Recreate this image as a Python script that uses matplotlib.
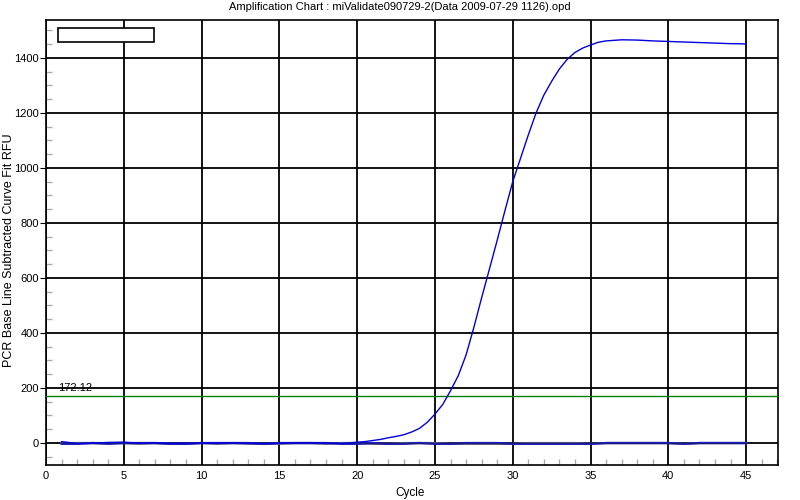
import matplotlib
matplotlib.use("Agg")
import matplotlib.pyplot as plt
from matplotlib.ticker import MultipleLocator
from matplotlib.patches import Rectangle

plt.rcParams['font.family'] = ['Liberation Sans', 'DejaVu Sans']

title = "Amplification Chart : miValidate090729-2(Data 2009-07-29 1126).opd"
xlabel = "Cycle"
ylabel = "PCR Base Line Subtracted Curve Fit RFU"
threshold = 172.12
threshold_label = "172.12"

cycles = list(range(1, 46))

main_cycles = [1, 2, 3, 4, 5, 6, 7, 8, 9, 10, 11, 12, 13, 14, 15, 16, 17, 18, 19,
               20, 20.5, 21, 21.5, 22, 22.5, 23, 23.5, 24, 24.5, 25, 25.5, 26, 26.5,
               27, 27.5, 28, 28.5, 29, 29.5, 30, 30.5, 31, 31.5, 32, 32.5, 33, 33.5,
               34, 34.5, 35, 35.5, 36, 37, 38, 39, 40, 41, 42, 43, 44, 45]
main_rfu = [5, -2, -1, 2, 3, -1, 0, -1, -1, 0, -1, 0, -1, -2, -1, 0, 0, 0, -2,
            3, 5, 9, 13, 19, 24, 30, 40, 53, 75, 105, 140, 190, 245,
            320, 420, 528, 632, 737, 845, 950, 1035, 1120, 1200, 1265, 1315, 1360, 1395,
            1420, 1436, 1447, 1457, 1462, 1466, 1465, 1462, 1460, 1458, 1456, 1454, 1452, 1451]

flat_gray = [0, 0, 0, 0, 0, -3, 0, -3, -3, 0, -3, 0, -3, -3, -3, 0, 0, -3, 0,
             0, -3, -3, 0, 0, 0, -3, -3, -3, -3, -3, 0, 0, 0, 0, -3, 0, 0, 0, 0, 0, -3, 0, 0, 0, 0]
flat_blue = [-3, -3, 0, -3, 0, 0, 0, -3, -3, 0, 0, 0, 0, -3, 0, 0, 0, 0, -3,
             -3, 0, -3, -3, 0, -3, -3, 0, 0, 0, -3, -3, -3, -3, -3, -3, 0, 0, 0, 0, 0, -3, 0, 0, 0, 0]
flat_navy = [0] * 45

fig = plt.figure(figsize=(8, 5), dpi=100)
ax = fig.add_axes([0.0575, 0.07, 0.915, 0.89])

ax.set_xlim(0, 47.05)
ax.set_ylim(-80, 1538)

ax.xaxis.set_major_locator(MultipleLocator(5))
ax.xaxis.set_minor_locator(MultipleLocator(1))
ax.yaxis.set_major_locator(MultipleLocator(200))
ax.yaxis.set_minor_locator(MultipleLocator(50))

ax.grid(which='major', color='black', linewidth=1.3, zorder=0)
ax.set_axisbelow(True)

ax.tick_params(axis='x', which='major', length=0, labelsize=8, pad=4)
ax.tick_params(axis='y', which='major', length=4, direction='out', labelsize=8, pad=1)
ax.tick_params(axis='both', which='minor', direction='in', length=4, color='#aaaaaa', width=1)
ax.tick_params(axis='y', which='minor', right=False)

for s in ax.spines.values():
    s.set_linewidth(1.2)
    s.set_color('black')

ax.plot(cycles, flat_gray, color='#777777', linewidth=1.6, zorder=2)
ax.plot(cycles, flat_blue, color='#1a1acc', linewidth=1.6, zorder=2)
ax.plot(cycles, flat_navy, color='#1a1a80', linewidth=1.0, zorder=3)
ax.plot(main_cycles, main_rfu, color='#0000dd', linewidth=1.0, zorder=4)

ax.axhline(threshold, color='#008000', linewidth=1.0, zorder=3)
ax.text(0.75, threshold + 8, threshold_label, fontsize=8, ha='left', va='bottom', zorder=5)

ax.add_patch(Rectangle((0.0164, 0.9506), 0.131, 0.0315, transform=ax.transAxes,
                       facecolor='white', edgecolor='black', linewidth=1.2, zorder=6))

fig.text(0.5, 0.985, title, ha='center', va='center', fontsize=8)
fig.text(0.513, 0.014, xlabel, ha='center', va='center', fontsize=8.5)
fig.text(0.011, 0.5, ylabel, ha='center', va='center', rotation=90, fontsize=9)

fig.savefig("out.png", dpi=100)
